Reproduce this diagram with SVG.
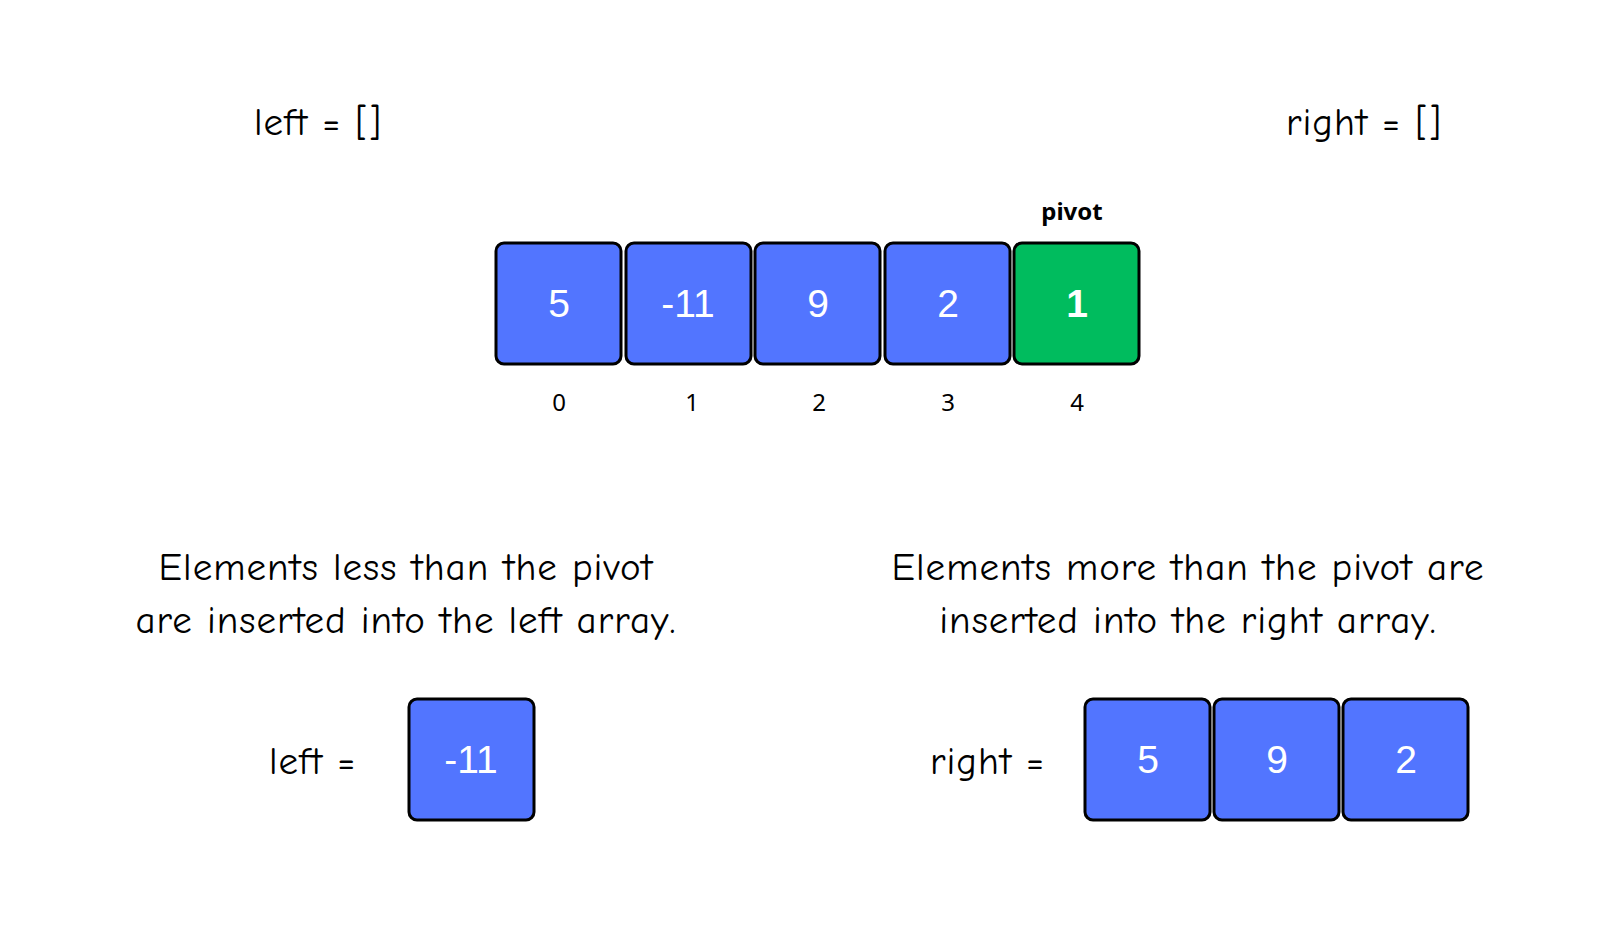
<svg xmlns="http://www.w3.org/2000/svg" width="1600" height="946" viewBox="0 0 1600 946">
<style>
.b{fill:#5275FF;stroke:#000;stroke-width:3}
.g{fill:#00BC5E;stroke:#000;stroke-width:3}
.n{font-family:"Liberation Sans",Arial,sans-serif;font-size:39px;fill:#fff;text-anchor:middle}
.t{font-family:"Comic Neue","Noto Sans",sans-serif;font-size:39px;letter-spacing:1px;fill:#000}
.i{font-family:"Noto Sans",sans-serif;font-size:24px;fill:#000;text-anchor:middle}
</style>
<rect width="1600" height="946" fill="#fff"/>
<text class="t" x="254" y="135">left = []</text>
<text class="t" x="1286" y="135">right = []</text>
<text x="1072" y="220" font-family="Noto Sans,sans-serif" font-size="24" font-weight="bold" text-anchor="middle">pivot</text>
<g id="n0"><rect class="b" x="496" y="243" width="125" height="121" rx="8"/><text class="n" x="559" y="317">5</text></g>
<g id="n1"><rect class="b" x="626" y="243" width="125" height="121" rx="8"/><text class="n" x="688" y="317">-11</text></g>
<g id="n2"><rect class="b" x="755" y="243" width="125" height="121" rx="8"/><text class="n" x="818" y="317">9</text></g>
<g id="n3"><rect class="b" x="885" y="243" width="125" height="121" rx="8"/><text class="n" x="948" y="317">2</text></g>
<g id="n4"><rect class="g" x="1014" y="243" width="125" height="121" rx="8"/><text class="n" x="1077" y="317" font-weight="bold">1</text></g>
<text class="i" x="559" y="411">0</text><text class="i" x="692" y="411">1</text><text class="i" x="819" y="411">2</text><text class="i" x="948" y="411">3</text><text class="i" x="1077" y="411">4</text>
<text class="t" text-anchor="middle" x="406" y="580">Elements less than the pivot</text>
<text class="t" text-anchor="middle" x="406" y="633">are inserted into the left array.</text>
<text class="t" text-anchor="middle" x="1188" y="580">Elements more than the pivot are</text>
<text class="t" text-anchor="middle" x="1188" y="633">inserted into the right array.</text>
<text class="t" x="269" y="774">left =</text>
<text class="t" x="930" y="774">right =</text>
<g id="l0"><rect class="b" x="409" y="699" width="125" height="121" rx="8"/><text class="n" x="471" y="773">-11</text></g>
<g id="r0"><rect class="b" x="1085" y="699" width="125" height="121" rx="8"/><text class="n" x="1148" y="773">5</text></g>
<g id="r1"><rect class="b" x="1214" y="699" width="125" height="121" rx="8"/><text class="n" x="1277" y="773">9</text></g>
<g id="r2"><rect class="b" x="1343" y="699" width="125" height="121" rx="8"/><text class="n" x="1406" y="773">2</text></g>
<g id="connectors"/>
</svg>
